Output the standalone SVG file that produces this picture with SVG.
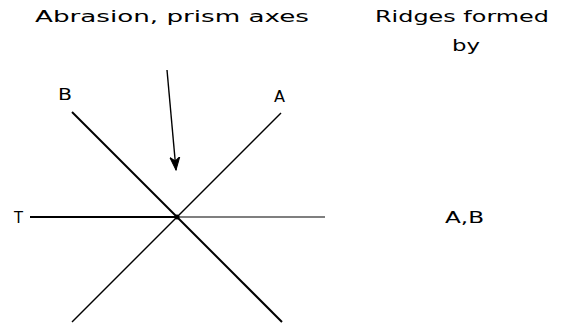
<svg xmlns="http://www.w3.org/2000/svg" width="561" height="327" viewBox="0 0 561 327">
<defs>
<style>
text{font-family:"DejaVu Sans","Liberation Sans",sans-serif;font-size:15px;fill:#000}
.ax{stroke:#000;fill:none}
</style>
<marker id="ah" markerWidth="14" markerHeight="12" refX="13" refY="6" orient="auto" markerUnits="userSpaceOnUse" viewBox="0 0 14 12">
<path d="M0,1 L13,6 L0,11 L4,6 Z" fill="#000" stroke="#000" stroke-width="1"/>
</marker>
</defs>
<rect width="561" height="327" fill="#fff"/>
<g id="title-left"><text x="35" y="22" textLength="274" lengthAdjust="spacingAndGlyphs">Abrasion, prism axes</text></g>
<g id="title-right"><text x="375" y="22" textLength="174" lengthAdjust="spacingAndGlyphs">Ridges formed</text><text x="452" y="51" textLength="28" lengthAdjust="spacingAndGlyphs">by</text></g>
<g id="label-B"><text x="58" y="100" textLength="14" lengthAdjust="spacingAndGlyphs">B</text></g>
<g id="label-A"><text x="274" y="102" textLength="11" lengthAdjust="spacingAndGlyphs">A</text></g>
<g id="label-T"><text x="14" y="223" textLength="9" lengthAdjust="spacingAndGlyphs">T</text></g>
<g id="label-AB"><text x="445" y="223" textLength="39" lengthAdjust="spacingAndGlyphs">A,B</text></g>
<g id="connectors">
<line class="ax" x1="30" y1="217" x2="177" y2="217" stroke-width="2"/>
<line class="ax" x1="177" y1="217" x2="325" y2="217" stroke-width="1.2"/>
<line class="ax" x1="72" y1="112" x2="282" y2="322" stroke-width="2"/>
<line class="ax" x1="281" y1="113" x2="72" y2="322" stroke-width="1.4"/>
<line class="ax" x1="167" y1="70" x2="176" y2="170" stroke-width="1.4" marker-end="url(#ah)"/>
<circle cx="177" cy="217" r="2.5" fill="#000"/>
</g>
</svg>
